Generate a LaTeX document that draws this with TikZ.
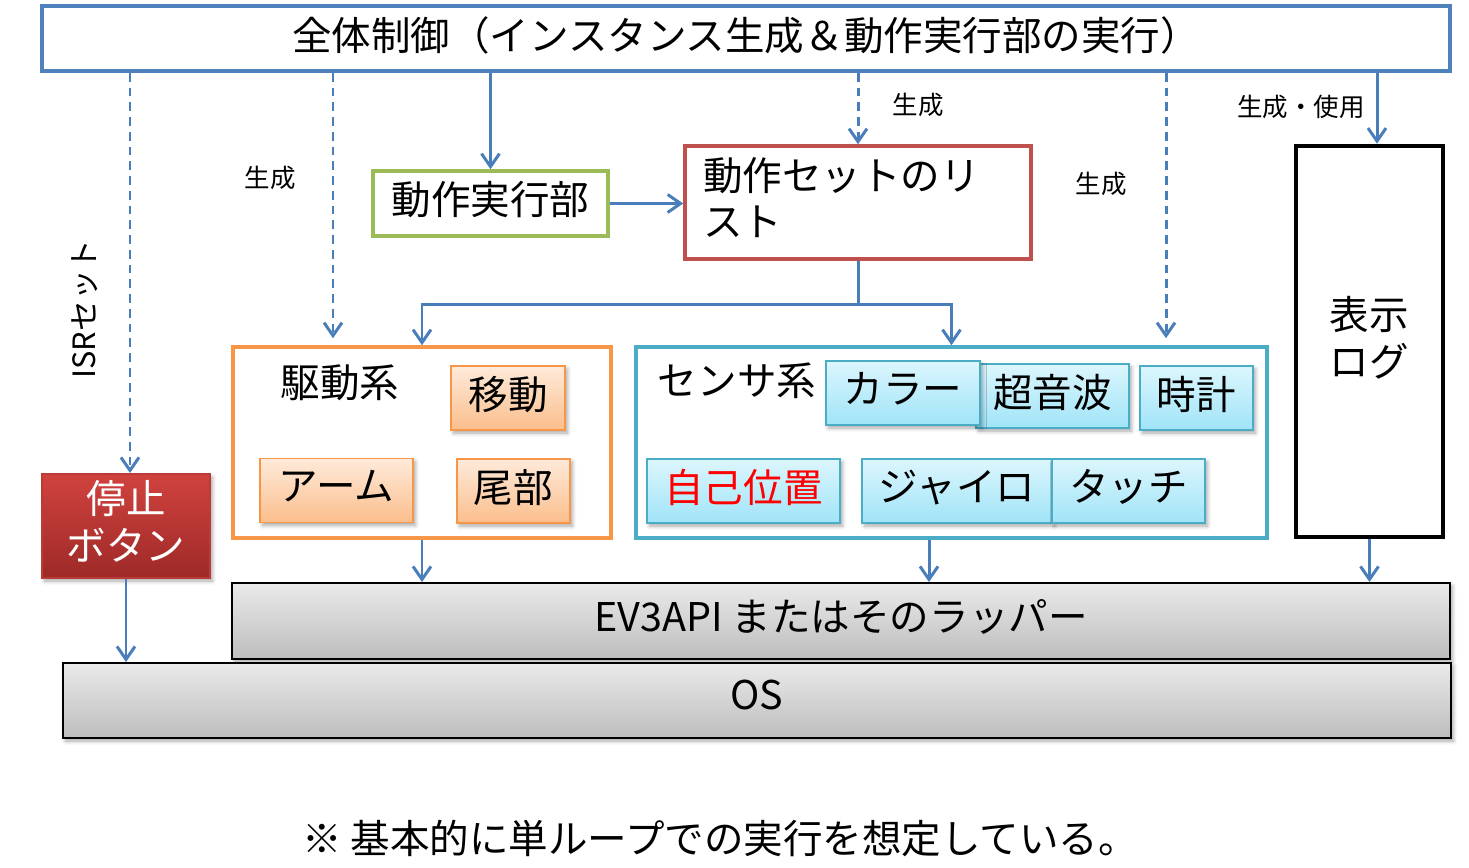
\documentclass[tikz,border=0pt]{standalone}
\usepackage{fontspec}
\setmainfont{Noto Sans CJK JP}
\usepackage{xcolor}
\usetikzlibrary{shadows.blur}
\usetikzlibrary{arrows.meta}

\definecolor{edgeblue}{RGB}{74,126,187}
\definecolor{topblue}{RGB}{79,129,189}
\definecolor{execgreen}{RGB}{155,187,89}
\definecolor{listred}{RGB}{192,80,77}
\definecolor{driveorange}{RGB}{247,150,70}
\definecolor{sensorteal}{RGB}{75,172,198}
\definecolor{dtop}{RGB}{254,234,218}
\definecolor{dbottom}{RGB}{251,190,140}
\definecolor{stop}{RGB}{220,246,253}
\definecolor{sbottom}{RGB}{160,228,248}
\definecolor{rtop}{RGB}{208,66,62}
\definecolor{rbottom}{RGB}{158,42,40}

\newcommand{\boxfont}{\fontsize{22.5}{26.5}\selectfont}
\newcommand{\notefont}{\fontsize{14.5}{17}\selectfont}

\begin{document}
\begin{tikzpicture}[]
	%\draw[help lines] (0,0) grid (29,-17);

	\tikzstyle{frame} = [draw,line width=2pt,inner sep=0pt,font=\boxfont,text depth=6pt]
	\tikzstyle{part} = [draw,line width=1.1pt,inner sep=0pt,font=\boxfont,text depth=6pt,minimum height=1.28cm,
		blur shadow={shadow xshift=0.05cm,shadow yshift=-0.06cm,shadow opacity=35}]
	\tikzstyle{dpart} = [part,draw=driveorange,top color=dtop,bottom color=dbottom]
	\tikzstyle{spart} = [part,draw=sensorteal,top color=stop,bottom color=sbottom]
	\tikzstyle{layer} = [part,draw=black,top color=black!8,bottom color=black!26]
	\tikzstyle{vedge} = [draw=edgeblue,line width=1.7pt,-{Straight Barb[length=2.6mm,width=3.6mm]}]
	\tikzstyle{dedge} = [vedge,dash pattern=on 5pt off 3.4pt]
	\tikzstyle{note} = [font=\notefont]

	\useasboundingbox (0,0) rectangle (29.38,-17.36);

	\node[frame,draw=topblue,minimum width=28.16cm,minimum height=1.30cm] (top) at (14.92,-0.77) {全体制御（インスタンス生成＆動作実行部の実行）};

	\node[frame,draw=execgreen,minimum width=4.70cm,minimum height=1.30cm] (exec) at (9.81,-4.07) {動作実行部};
	\node[frame,draw=listred,text width=6.20cm,inner xsep=0.36cm,align=left,text depth=33pt,minimum height=2.26cm] (list) at (17.16,-4.05) {動作セットのリ\\スト};
	\node[frame,draw=black,line width=2.6pt,minimum width=2.94cm,minimum height=7.82cm,align=center] (log) at (27.39,-6.83) {表示\\ログ};

	\node[frame,draw=driveorange,minimum width=7.56cm,minimum height=3.82cm] (drive) at (8.44,-8.85) {};
	\node[font=\boxfont] (drivelbl) at (6.80,-7.66) {駆動系};
	\node[dpart,minimum width=2.28cm] (move) at (10.16,-7.96) {移動};
	\node[dpart,minimum width=3.06cm] (arm) at (6.73,-9.81) {アーム};
	\node[dpart,minimum width=2.26cm] (tail) at (10.27,-9.82) {尾部};

	\node[frame,draw=sensorteal,minimum width=12.62cm,minimum height=3.82cm] (sensor) at (19.03,-8.85) {};
	\node[font=\boxfont] (sensorlbl) at (14.74,-7.62) {センサ系};
	\node[spart,minimum width=3.06cm] (sonic) at (21.05,-7.92) {超音波};
	\node[spart,minimum width=3.08cm] (color) at (18.06,-7.86) {カラー};
	\node[spart,minimum width=2.26cm] (clock) at (23.93,-7.96) {時計};
	\node[spart,minimum width=3.86cm,text=red] (selfpos) at (14.87,-9.82) {自己位置};
	\node[spart,minimum width=3.80cm] (gyro) at (19.14,-9.82) {ジャイロ};
	\node[spart,minimum width=3.06cm] (touch) at (22.57,-9.82) {タッチ};

	\node[part,draw=rtop!90!black,top color=rtop,bottom color=rbottom,text=white,align=center,
		minimum width=3.36cm,minimum height=2.08cm] (stop) at (2.52,-10.52) {停止\\ボタン};

	\node[layer,minimum width=24.36cm,minimum height=1.52cm] (api) at (16.82,-12.42) {EV3API またはそのラッパー};
	\node[layer,minimum width=27.76cm,minimum height=1.50cm] (os) at (15.14,-14.01) {OS};

	\node[note,font=\fontsize{17.5}{20}\selectfont] (isr) at (1.70,-6.18) [rotate=90] {ISRセット};
	\node[note] (gen1) at (5.40,-3.56) {生成};
	\node[note] (gen2) at (18.36,-2.10) {生成};
	\node[note] (gen3) at (22.02,-3.68) {生成};
	\node[note] (genuse) at (26.02,-2.14) {生成・使用};

	\node[font=\boxfont] (footer) at (14.40,-16.76) {※ 基本的に単ループでの実行を想定している。};

	\draw (top.south -| 2.60,0) edge [dedge] (stop.north -| 2.60,0);
	\draw (top.south -| 6.66,0) edge [dedge,shorten >=0.14cm] (drive.north -| 6.66,0);
	\draw (top.south -| exec.north) edge [vedge] (exec.north);
	\draw (top.south -| list.north) edge [dedge] (list.north);
	\draw (top.south -| 23.32,0) edge [dedge,shorten >=0.14cm] (sensor.north -| 23.32,0);
	\draw (top.south -| 27.54,0) edge [vedge] (log.north -| 27.54,0);

	\draw (exec.east) edge [vedge] (exec.east -| list.west);

	\draw[vedge] (list.south) -- ++(0,-0.88) -| (drive.north);
	\draw[vedge] (list.south) -- ++(0,-0.88) -| (sensor.north);

	\draw (drive.south) edge [vedge] (drive.south |- api.north);
	\draw (sensor.south -| 18.58,0) edge [vedge] (api.north -| 18.58,0);
	\draw (log.south) edge [vedge] (log.south |- api.north);
	\draw (stop.south) edge [vedge] (stop.south |- os.north);

\end{tikzpicture}
\end{document}
